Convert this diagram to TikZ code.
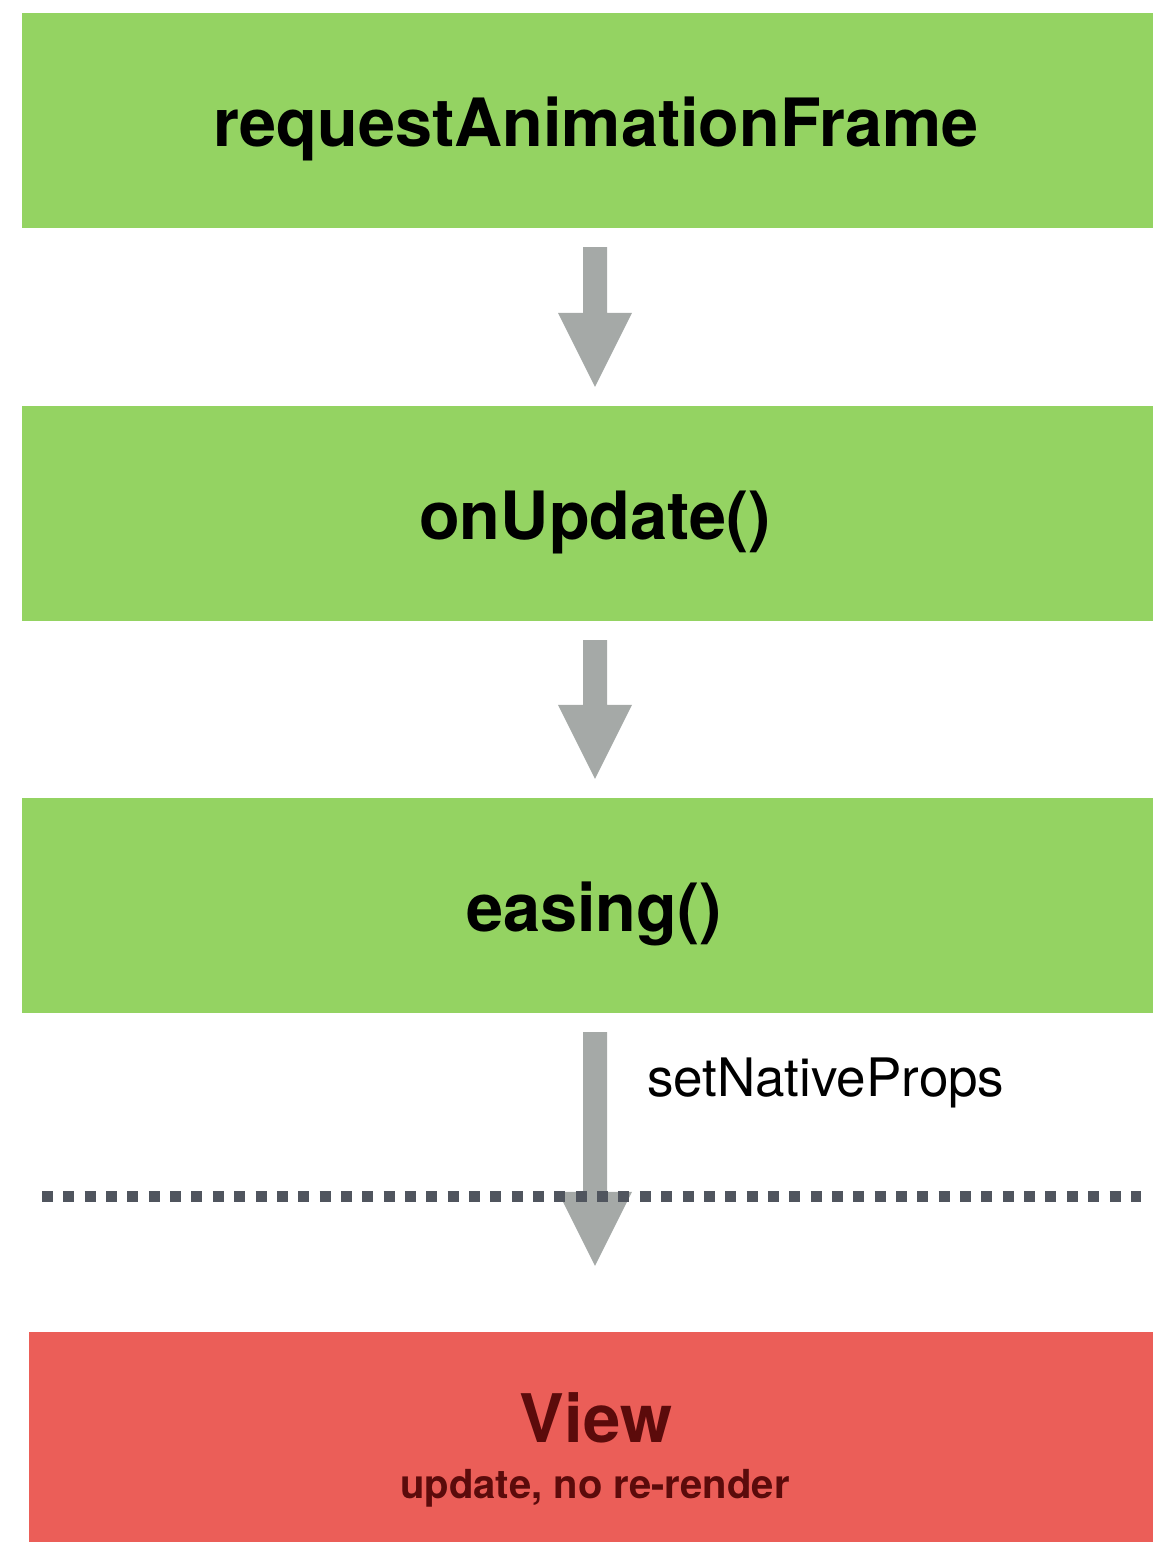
\documentclass[tikz,border=0pt]{standalone}
\usepackage{fontspec}
\setmainfont{TeX Gyre Heros}
\usetikzlibrary{calc}

\definecolor{stepgreen}{HTML}{94D362}
\definecolor{viewred}{HTML}{EB5E58}
\definecolor{viewtext}{HTML}{5B0B0B}
\definecolor{arrowgray}{HTML}{A5A9A7}
\definecolor{dotgray}{HTML}{50555E}

\tikzset{
  stepbox/.style={rectangle, fill=stepgreen, draw=none, inner sep=0pt,
    minimum width=1131pt, minimum height=215pt},
  viewbox/.style={rectangle, fill=viewred, draw=none, inner sep=0pt,
    minimum width=1124pt, minimum height=210pt},
  steptitle/.style={anchor=base, inner sep=0pt,
    font=\fontsize{66.6}{70}\selectfont\bfseries},
  viewtitle/.style={anchor=base, inner sep=0pt, text=viewtext,
    font=\fontsize{67}{70}\selectfont\bfseries},
  viewsub/.style={anchor=base, inner sep=0pt, text=viewtext,
    font=\fontsize{40}{44}\selectfont\bfseries},
  calllabel/.style={anchor=base west, inner sep=0pt,
    font=\fontsize{53}{56}\selectfont},
  dotline/.style={draw=dotgray, line width=11pt,
    dash pattern=on 11pt off 10.35pt},
}

% filled block arrow: shaft from #1 down to the head, tip at #2
\newcommand\blockarrow[2]{%
  \fill[arrowgray]
    ($(#1)+(-12,0)$) -- ($(#1)+(12,0)$) -- ($(#2)+(12,-74)$) --
    ($(#2)+(37,-74)$) -- (#2) -- ($(#2)+(-37,-74)$) --
    ($(#2)+(-12,-74)$) -- cycle;}

\begin{document}
\begin{tikzpicture}[x=1pt, y=-1pt]
  \useasboundingbox (0,0) rectangle (1153,1542);

  % the three steps and the view
  \node[stepbox] (b1) at (587.5,120.5) {};
  \node[stepbox] (b2) at (587.5,513.5) {};
  \node[stepbox] (b3) at (587.5,905.5) {};
  \node[viewbox] (v)  at (591,1437) {};

  \node[steptitle] (t1) at (596,146) {requestAnimationFrame};
  \node[steptitle] (t2) at (595,539) {onUpdate()};
  \node[steptitle] (t3) at (594,931) {easing()};
  \node[viewtitle] (t4) at (596,1442) {View};
  \node[viewsub]   (t5) at (595,1498) {update, no re-render};

  % arrow column
  \coordinate (ax) at (595,0);
  \coordinate (a1s) at ($(b1.south -| ax)+(0,19)$);
  \coordinate (a1e) at ($(b2.north -| ax)+(0,-19)$);
  \coordinate (a2s) at ($(b2.south -| ax)+(0,19)$);
  \coordinate (a2e) at ($(b3.north -| ax)+(0,-19)$);
  \coordinate (a3s) at ($(b3.south -| ax)+(0,19)$);
  \coordinate (a3e) at ($(v.north -| ax)+(0,-66)$);

  \blockarrow{a1s}{a1e}
  \blockarrow{a2s}{a2e}
  \blockarrow{a3s}{a3e}

  \node[calllabel] (c) at (647,1096) {setNativeProps};

  % boundary between JS and native side
  \coordinate (dl) at (42,1196.5);
  \coordinate (dr) at (1141,1196.5);
  \draw[dotline] (dl) -- (dr);
\end{tikzpicture}
\end{document}
